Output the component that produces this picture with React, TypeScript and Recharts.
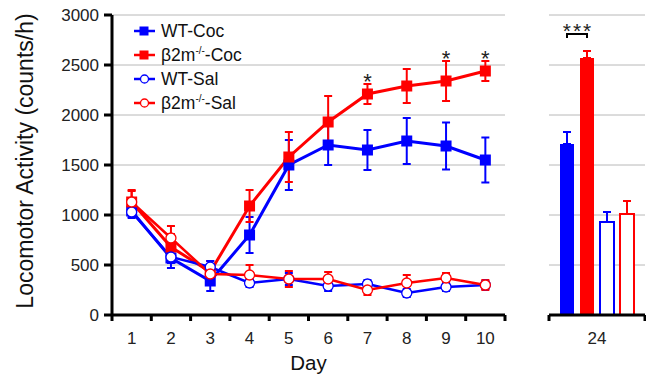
import React from 'react';
import {
  ComposedChart, BarChart, Bar, Line, Scatter, XAxis, YAxis, CartesianGrid, ErrorBar, Legend, Label,
} from 'recharts';

// ---------- data ----------
const days = [1, 2, 3, 4, 5, 6, 7, 8, 9, 10];
const wtCoc = [1040, 570, 340, 800, 1500, 1700, 1650, 1740, 1690, 1550];
const wtCocErr = [60, 100, 100, 180, 250, 200, 200, 230, 235, 225];
const koCoc = [1130, 680, 430, 1090, 1580, 1930, 2210, 2290, 2340, 2440];
const koCocErr = [110, 130, 110, 160, 250, 260, 100, 170, 200, 100];
const wtSal = [1030, 580, 480, 320, 360, 290, 310, 220, 280, 300];
const wtSalErr = [60, 60, 60, 40, 60, 50, 40, 40, 40, 40];
const koSal = [1130, 770, 410, 400, 360, 360, 250, 320, 370, 300];
const koSalErr = [120, 120, 70, 100, 80, 70, 50, 80, 50, 50];
const sigDays = [7, 9, 10];

const yTicks = [0, 500, 1000, 1500, 2000, 2500, 3000];

const barCategories = ['24'];
const bar24 = { wtCoc: 1710, koCoc: 2570, wtSal: 930, koSal: 1010 };
const bar24Err = { wtCoc: 120, koCoc: 70, wtSal: 100, koSal: 130 };

const legendLabels: [string, string, string][] = [
  ['WT-Coc', '', ''],
  ['β2m', '-/-', '-Coc'],
  ['WT-Sal', '', ''],
  ['β2m', '-/-', '-Sal'],
];

// ---------- derived tables ----------
const lineData = days.map((d, i) => ({
  day: d,
  wtCoc: wtCoc[i], wtCocErr: wtCocErr[i],
  koCoc: koCoc[i], koCocErr: koCocErr[i],
  wtSal: wtSal[i], wtSalErr: wtSalErr[i],
  koSal: koSal[i], koSalErr: koSalErr[i],
}));
const starData = sigDays.map((d) => {
  const i = days.indexOf(d);
  return { day: d, top: koCoc[i] + koCocErr[i] };
});
const barData = barCategories.map((c) => ({
  cat: c,
  wtCoc: bar24.wtCoc, wtCocErr: [0, bar24Err.wtCoc],
  koCoc: bar24.koCoc, koCocErr: [0, bar24Err.koCoc],
  wtSal: bar24.wtSal, wtSalErr: [0, bar24Err.wtSal],
  koSal: bar24.koSal, koSalErr: [0, bar24Err.koSal],
}));

// ---------- style ----------
const BLUE = '#0000ff';
const RED = '#ff0000';
const GRID = '#b8b8b8';
const FONT = '"Liberation Sans", Arial, Helvetica, sans-serif';
const H = 376;
const LEFT_W = 530;
const LEFT_MARGIN = { top: 15, right: 25, bottom: 31, left: 50 };
const Y_AXIS_W = 62;
const PLOT_L = LEFT_MARGIN.left + Y_AXIS_W;
const PLOT_R = LEFT_W - LEFT_MARGIN.right;
const HALF_BAND = (PLOT_R - PLOT_L) / days.length / 2;
const RIGHT_W = 116;
const RIGHT_MARGIN = { top: 15, right: 1, bottom: 31, left: 19 };
const RIGHT_HALF = (RIGHT_W - RIGHT_MARGIN.left - RIGHT_MARGIN.right) / 2;
const X_TICK_SIZE = 6;
const X_TICK_MARGIN = 11;

const makeSquare = (color: string) => (props: any) => {
  const { cx, cy, index } = props;
  if (cx == null || cy == null) return <g key={`e-${index}`} />;
  return <rect key={`sq-${index}`} x={cx - 5.5} y={cy - 5.5} width={11} height={11} fill={color} />;
};

const DayTick = (props: any) => {
  const { x, y, payload, index, visibleTicksCount } = props;
  const axisY = y - X_TICK_SIZE - X_TICK_MARGIN;
  const isLast = index === (visibleTicksCount ?? days.length) - 1;
  return (
    <g>
      <line x1={x - HALF_BAND} x2={x - HALF_BAND} y1={axisY} y2={axisY + X_TICK_SIZE} stroke="#000" strokeWidth={3} />
      {isLast && (
        <line x1={x + HALF_BAND} x2={x + HALF_BAND} y1={axisY} y2={axisY + X_TICK_SIZE} stroke="#000" strokeWidth={3} />
      )}
      <text x={x} y={y} dy="0.71em" textAnchor="middle" fontSize={17} fill="#222" fontFamily={FONT}>
        {payload.value}
      </text>
    </g>
  );
};

const CatTick = (props: any) => {
  const { x, y, payload } = props;
  const axisY = y - X_TICK_SIZE - X_TICK_MARGIN;
  return (
    <g>
      <line x1={x - RIGHT_HALF} x2={x - RIGHT_HALF} y1={axisY} y2={axisY + X_TICK_SIZE} stroke="#000" strokeWidth={3} />
      <line x1={x + RIGHT_HALF} x2={x + RIGHT_HALF} y1={axisY} y2={axisY + X_TICK_SIZE} stroke="#000" strokeWidth={3} />
      <text x={x} y={y} dy="0.71em" textAnchor="middle" fontSize={17} fill="#222" fontFamily={FONT}>
        {payload.value}
      </text>
    </g>
  );
};

const StarShape = (props: any) => {
  const { cx, cy } = props;
  return (
    <text x={cx} y={cy + 5} textAnchor="middle" fontSize={22} fill="#222" fontFamily={FONT}>*</text>
  );
};

const BracketLabel = (props: any) => {
  const { x, y, width } = props;
  const x2 = x + width / 2;
  const x1 = x - 6 - width / 2;
  const yb = y - 24;
  return (
    <g>
      <path d={`M${x1},${yb + 4} L${x1},${yb} L${x2},${yb} L${x2},${yb + 4}`} fill="none" stroke="#000" strokeWidth={2} />
      <text x={(x1 + x2) / 2 + 1} y={yb + 4} textAnchor="middle" fontSize={21} letterSpacing={2} fill="#222" fontFamily={FONT}>***</text>
    </g>
  );
};

const legendStyles = [
  { color: BLUE, filled: true },
  { color: RED, filled: true },
  { color: BLUE, filled: false },
  { color: RED, filled: false },
];

const LegendContent = () => (
  <div style={{ fontFamily: FONT, fontSize: 17.5, color: '#111' }}>
    {legendLabels.map((l, i) => {
      const s = legendStyles[i];
      return (
        <div key={i} style={{ display: 'flex', alignItems: 'center', height: 24 }}>
          <svg width={27} height={14} style={{ marginRight: 1 }}>
            <line x1={1} x2={22} y1={7} y2={7} stroke={s.color} strokeWidth={2.5} />
            {s.filled ? (
              <rect x={6.5} y={2.5} width={9} height={9} fill={s.color} />
            ) : (
              <circle cx={11.5} cy={7} r={4} fill="#fff" stroke={s.color} strokeWidth={1.3} />
            )}
          </svg>
          <span style={{ whiteSpace: 'nowrap' }}>
            {l[0]}
            {l[1] && <sup style={{ fontSize: 10, verticalAlign: 7, lineHeight: 0 }}>{l[1]}</sup>}
            {l[2]}
          </span>
        </div>
      );
    })}
  </div>
);

const YLabel = (props: any) => {
  const { viewBox } = props;
  const cx = viewBox.x - 25;
  const cy = viewBox.y + viewBox.height / 2 - 4;
  return (
    <text x={cx} y={cy} transform={`rotate(-90, ${cx}, ${cy})`} textAnchor="middle" dominantBaseline="central" fontSize={23} fill="#111" fontFamily={FONT}>
      Locomotor Activity (counts/h)
    </text>
  );
};

const XLabel = (props: any) => {
  const { viewBox } = props;
  return (
    <text x={viewBox.x + viewBox.width / 2} y={viewBox.y + viewBox.height + 25} textAnchor="middle" fontSize={20.5} fill="#111" fontFamily={FONT}>
      Day
    </text>
  );
};

export default function App() {
  return (
    <div style={{ position: 'absolute', left: 0, top: 0, width: 646, height: H, background: '#fff', fontFamily: FONT }}>
      <div style={{ position: 'absolute', left: 0, top: 0 }}>
        <ComposedChart width={LEFT_W} height={H} data={lineData} margin={LEFT_MARGIN}>
          <CartesianGrid vertical={false} stroke={GRID} strokeWidth={1} />
          <XAxis
            dataKey="day"
            type="number"
            domain={[0.5, 10.5]}
            ticks={days}
            interval={0}
            height={30}
            axisLine={{ stroke: '#000', strokeWidth: 3 }}
            tickLine={false}
            tickSize={X_TICK_SIZE}
            tickMargin={X_TICK_MARGIN}
            tick={<DayTick />}
          >
            <Label content={<XLabel />} />
          </XAxis>
          <YAxis
            width={Y_AXIS_W}
            domain={[0, 3000]}
            ticks={yTicks}
            interval={0}
            axisLine={{ stroke: '#000', strokeWidth: 3 }}
            tickLine={{ stroke: '#000', strokeWidth: 3 }}
            tickSize={8}
            tickMargin={5}
            tick={{ fontSize: 17, fill: '#222', fontFamily: FONT }}
          >
            <Label content={<YLabel />} />
          </YAxis>
          <Legend
            layout="vertical"
            align="center"
            verticalAlign="middle"
            wrapperStyle={{ left: 133, top: 19, width: 'auto', height: 'auto' }}
            content={<LegendContent />}
          />
          <Line dataKey="wtCoc" stroke={BLUE} strokeWidth={3} dot={makeSquare(BLUE)} activeDot={false} isAnimationActive={false}>
            <ErrorBar dataKey="wtCocErr" direction="y" width={4} stroke={BLUE} strokeWidth={2} />
          </Line>
          <Line dataKey="koCoc" stroke={RED} strokeWidth={3} dot={makeSquare(RED)} activeDot={false} isAnimationActive={false}>
            <ErrorBar dataKey="koCocErr" direction="y" width={4} stroke={RED} strokeWidth={2} />
          </Line>
          <Line dataKey="wtSal" stroke={BLUE} strokeWidth={2.5} dot={{ r: 5, fill: '#fff', stroke: BLUE, strokeWidth: 1.3 }} activeDot={false} isAnimationActive={false}>
            <ErrorBar dataKey="wtSalErr" direction="y" width={4} stroke={BLUE} strokeWidth={2} />
          </Line>
          <Line dataKey="koSal" stroke={RED} strokeWidth={2.5} dot={{ r: 5, fill: '#fff', stroke: RED, strokeWidth: 1.3 }} activeDot={false} isAnimationActive={false}>
            <ErrorBar dataKey="koSalErr" direction="y" width={4} stroke={RED} strokeWidth={2} />
          </Line>
          <Scatter data={starData} dataKey="top" shape={<StarShape />} isAnimationActive={false} legendType="none" />
        </ComposedChart>
      </div>
      <div style={{ position: 'absolute', left: LEFT_W, top: 0 }}>
        <BarChart width={RIGHT_W} height={H} data={barData} margin={RIGHT_MARGIN} barSize={14} barGap={6} barCategoryGap={11}>
          <CartesianGrid vertical={false} stroke={GRID} strokeWidth={1} />
          <XAxis
            dataKey="cat"
            height={30}
            axisLine={{ stroke: '#000', strokeWidth: 3 }}
            tickLine={false}
            tickSize={X_TICK_SIZE}
            tickMargin={X_TICK_MARGIN}
            tick={<CatTick />}
          />
          <YAxis hide domain={[0, 3000]} ticks={yTicks} interval={0} />
          <Bar dataKey="wtCoc" fill={BLUE} isAnimationActive={false}>
            <ErrorBar dataKey="wtCocErr" direction="y" width={4} stroke={BLUE} strokeWidth={2} />
          </Bar>
          <Bar dataKey="koCoc" fill={RED} isAnimationActive={false} label={<BracketLabel />}>
            <ErrorBar dataKey="koCocErr" direction="y" width={4} stroke={RED} strokeWidth={2} />
          </Bar>
          <Bar dataKey="wtSal" fill="#fff" stroke={BLUE} strokeWidth={2} isAnimationActive={false}>
            <ErrorBar dataKey="wtSalErr" direction="y" width={4} stroke={BLUE} strokeWidth={2} />
          </Bar>
          <Bar dataKey="koSal" fill="#fff" stroke={RED} strokeWidth={2} isAnimationActive={false}>
            <ErrorBar dataKey="koSalErr" direction="y" width={4} stroke={RED} strokeWidth={2} />
          </Bar>
        </BarChart>
      </div>
    </div>
  );
}
